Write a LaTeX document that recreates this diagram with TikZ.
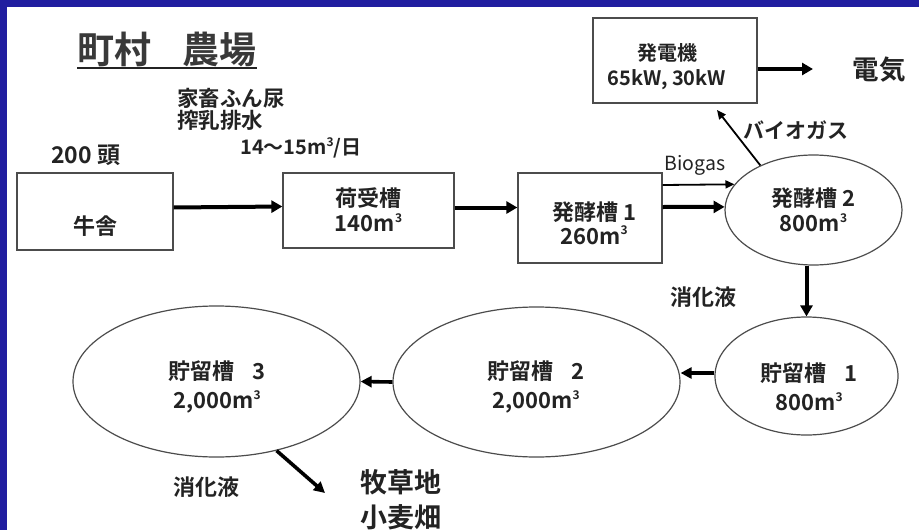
\documentclass[tikz,border=0pt]{standalone}
\usepackage{fontspec}
\setmainfont{Noto Sans CJK JP}[BoldFont={Noto Sans CJK JP Bold}]
\usetikzlibrary{shapes.geometric,arrows.meta,calc}
\definecolor{frameblue}{RGB}{33,30,160}
\definecolor{ink}{RGB}{35,35,35}
\newcommand\fsz[2]{\fontsize{#1}{#2}\selectfont}
\newcommand\cub[1]{m\raisebox{0.42em}{\fontsize{#1}{#1}\selectfont 3}}
\begin{document}
\begin{tikzpicture}[x=1pt,y=-1pt,
  box/.style={draw=black!70,line width=1.3pt,rectangle,inner sep=0pt},
  tank/.style={draw=black!70,line width=1.2pt,ellipse,inner sep=0pt},
  lbl/.style={text=ink,inner sep=0pt,align=center,font=\fsz{22}{24}\bfseries},
  bigarrow/.style={draw=black,line width=4pt,-{Triangle[length=11pt,width=12pt]}},
  midarrow/.style={draw=black,line width=3.6pt,-{Triangle[length=11pt,width=11pt]}},
  thinarrow/.style={draw=black,line width=1.8pt,-{Triangle[length=9pt,width=8pt]}}]
\useasboundingbox (0,0) rectangle (919,530);
\fill[frameblue] (0,0) rectangle (919,530);
\fill[white] (7,7) rectangle (919,530);

% title
\node[inner sep=0pt,text=ink!90,font=\fsz{37}{40}\bfseries] (title) at (167,50) {町村\hspace{0.85em}農場};
\draw[ink,line width=1.8pt] (title.south west) -- (title.south east);

% labels
\node[lbl,align=left,anchor=north west,font=\fsz{21.5}{22}\bfseries] (manure) at (177,88) {家畜ふん尿\\搾乳排水};
\node[lbl,anchor=west,font=\fsz{20}{22}\bfseries] (flow) at (240,148) {14～15\cub{12}/日};
\node[lbl,anchor=west,font=\fsz{23}{24}\bfseries] (heads) at (51,155) {200 頭};

% boxes
\node[box,minimum width=156,minimum height=77] (cow) at (95,211.5) {};
\node[lbl] (cowtxt) at (95,226) {牛舎};
\node[box,minimum width=171,minimum height=75] (recv) at (368.5,210.5) {};
\node[lbl] (recvtxt) at (368.5,210) {荷受槽\\[1pt]140\cub{12}};
\node[box,minimum width=144,minimum height=90] (dig1) at (590,218) {};
\node[lbl] (dig1txt) at (594,223) {発酵槽 1\\260\cub{12}};
\node[box,minimum width=164,minimum height=85] (gen) at (675,60.5) {};
\node[lbl,font=\fsz{20}{25}\bfseries] (gentxt) at (667,67) {発電機\\65kW, 30kW};

% tanks
\node[tank,minimum width=177,minimum height=110] (dig2) at (813.5,210) {};
\node[lbl] (dig2txt) at (813.5,210) {発酵槽 2\\[1pt]800\cub{12}};
\node[tank,minimum width=183,minimum height=118] (st1) at (806.5,376) {};
\node[lbl,font=\fsz{22}{29}\bfseries] (st1txt) at (809,387) {貯留槽\hspace{0.8em}1\\800\cub{12}};
\node[tank,minimum width=287,minimum height=150] (st2) at (536.5,382) {};
\node[lbl,font=\fsz{22}{29}\bfseries] (st2txt) at (536,387) {貯留槽\hspace{0.8em}2\\2,000\cub{12}};
\node[tank,minimum width=287,minimum height=151] (st3) at (216.5,381.5) {};
\node[lbl,font=\fsz{22}{29}\bfseries] (st3txt) at (217,387) {貯留槽\hspace{0.8em}3\\2,000\cub{12}};

% free text
\node[lbl,font=\fsz{19.5}{20}] (biogas) at (695,165) {Biogas};
\node[lbl,anchor=west,font=\fsz{21}{24}\bfseries] (biogasjp) at (743,130) {バイオガス};
\node[lbl,font=\fsz{26.5}{30}\bfseries] (elec) at (879,70) {電気};
\node[lbl] (liq1) at (703,297) {消化液};
\node[lbl] (liq2) at (206,487) {消化液};
\node[lbl,align=left,anchor=west,font=\fsz{27}{35}\bfseries] (field) at (360,500) {牧草地\\小麦畑};

\coordinate (gastip) at (717,110);
\coordinate (electip) at (813,69);
\coordinate (fieldtip) at (325,493);

% connectors
\draw[bigarrow] ([yshift=4]cow.east) -- ([yshift=4]recv.west);
\draw[bigarrow] ([yshift=3]recv.east) -- ([yshift=3]recv.east -| dig1.west);
\draw[bigarrow] ([yshift=11]dig1.east) -- (dig2.178);
\draw[thinarrow] ([yshift=33]dig1.east) -- (dig2.162);
\draw[thinarrow] (dig2.140) -- (gastip);
\draw[bigarrow] ([yshift=-8.5]gen.east) -- (electip);
\draw[bigarrow] (dig2.south -| st1.north) -- (st1.north);
\draw[midarrow] ([yshift=3]st1.west) -- ([yshift=3]st1.west -| st2.east);
\draw[midarrow] (st2.west) -- (st3.east);
\draw[midarrow] (st3.-49) -- (fieldtip);
\end{tikzpicture}
\end{document}
